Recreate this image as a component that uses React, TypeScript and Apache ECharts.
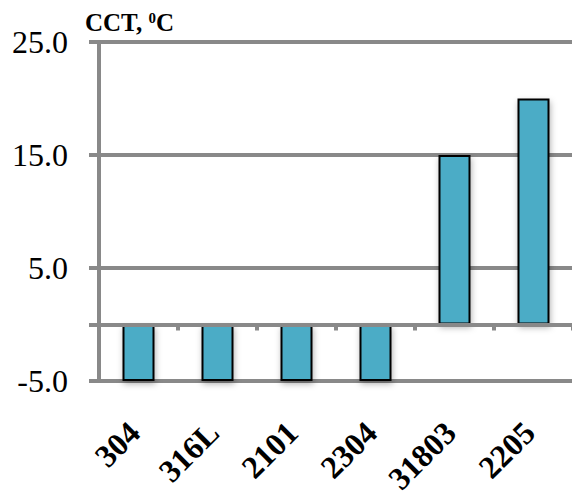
import React, { useEffect, useRef } from "react";
import * as echarts from "echarts";

const categories = ["304", "316L", "2101", "2304", "31803", "2205"];
const cctValues = [-5, -5, -5, -5, 15, 20];
const yTickValues = [-5, 0, 5, 15, 25];

export default function App() {
  const ref = useRef<HTMLDivElement>(null);
  useEffect(() => {
    if (!ref.current) return;
    const chart = echarts.init(ref.current, null, { renderer: "svg" });
    const grey = "#898989";
    const font = "'Liberation Serif', 'DejaVu Serif', serif";
    chart.setOption({
      animation: false,
      title: {
        text: "CCT, {sup|0}C",
        left: 80,
        top: 5,
        textStyle: {
          fontFamily: font,
          fontWeight: "bold",
          fontSize: 25,
          color: "#000",
          rich: {
            sup: {
              fontFamily: font,
              fontWeight: "bold",
              fontSize: 15,
              color: "#000",
              verticalAlign: "top",
              padding: [0, 0, 10, 0],
            },
          },
        },
      },
      grid: {
        left: 99,
        top: 42,
        width: 474,
        height: 339,
        containLabel: false,
        outerBoundsMode: "none",
      },
      xAxis: [
        {
          type: "category",
          data: categories,
          z: 5,
          axisLine: { show: true, onZero: true, lineStyle: { color: grey, width: 4 } },
          axisTick: { show: true, inside: false, length: 6, lineStyle: { color: grey, width: 4 } },
          axisLabel: { show: false },
          splitLine: { show: false },
        },
        {
          type: "category",
          data: categories,
          position: "bottom",
          axisLine: { show: false, onZero: false },
          axisTick: { show: false },
          axisLabel: {
            show: true,
            rotate: 45,
            margin: 42,
            fontFamily: font,
            fontWeight: "bold",
            fontSize: 32,
            color: "#000",
            interval: 0,
            padding: [0, 6, 0, 0],
          },
        },
      ],
      yAxis: {
        type: "value",
        min: -5,
        max: 25,
        interval: 10,
        axisLine: { show: true, lineStyle: { color: grey, width: 4 } },
        axisTick: {
          show: true,
          length: 10,
          customValues: yTickValues,
          lineStyle: { color: grey, width: 4 },
        },
        axisLabel: {
          margin: 31,
          fontFamily: font,
          fontSize: 32,
          color: "#000",
          formatter: (v: number) => v.toFixed(1),
        },
        splitLine: { show: true, lineStyle: { color: grey, width: 4 } },
      },
      series: [
        {
          type: "bar",
          data: cctValues,
          xAxisIndex: 0,
          barWidth: 32,
          itemStyle: {
            color: "#4bacc6",
            borderColor: "#000",
            borderWidth: 2,
            shadowColor: "rgba(0,0,0,0.3)",
            shadowBlur: 6,
            shadowOffsetX: 1,
            shadowOffsetY: 3,
          },
        },
      ],
    });
    return () => chart.dispose();
  }, []);
  return (
    <div
      ref={ref}
      style={{ position: "fixed", left: 0, top: 0, width: 572, height: 495, background: "#fff" }}
    />
  );
}
